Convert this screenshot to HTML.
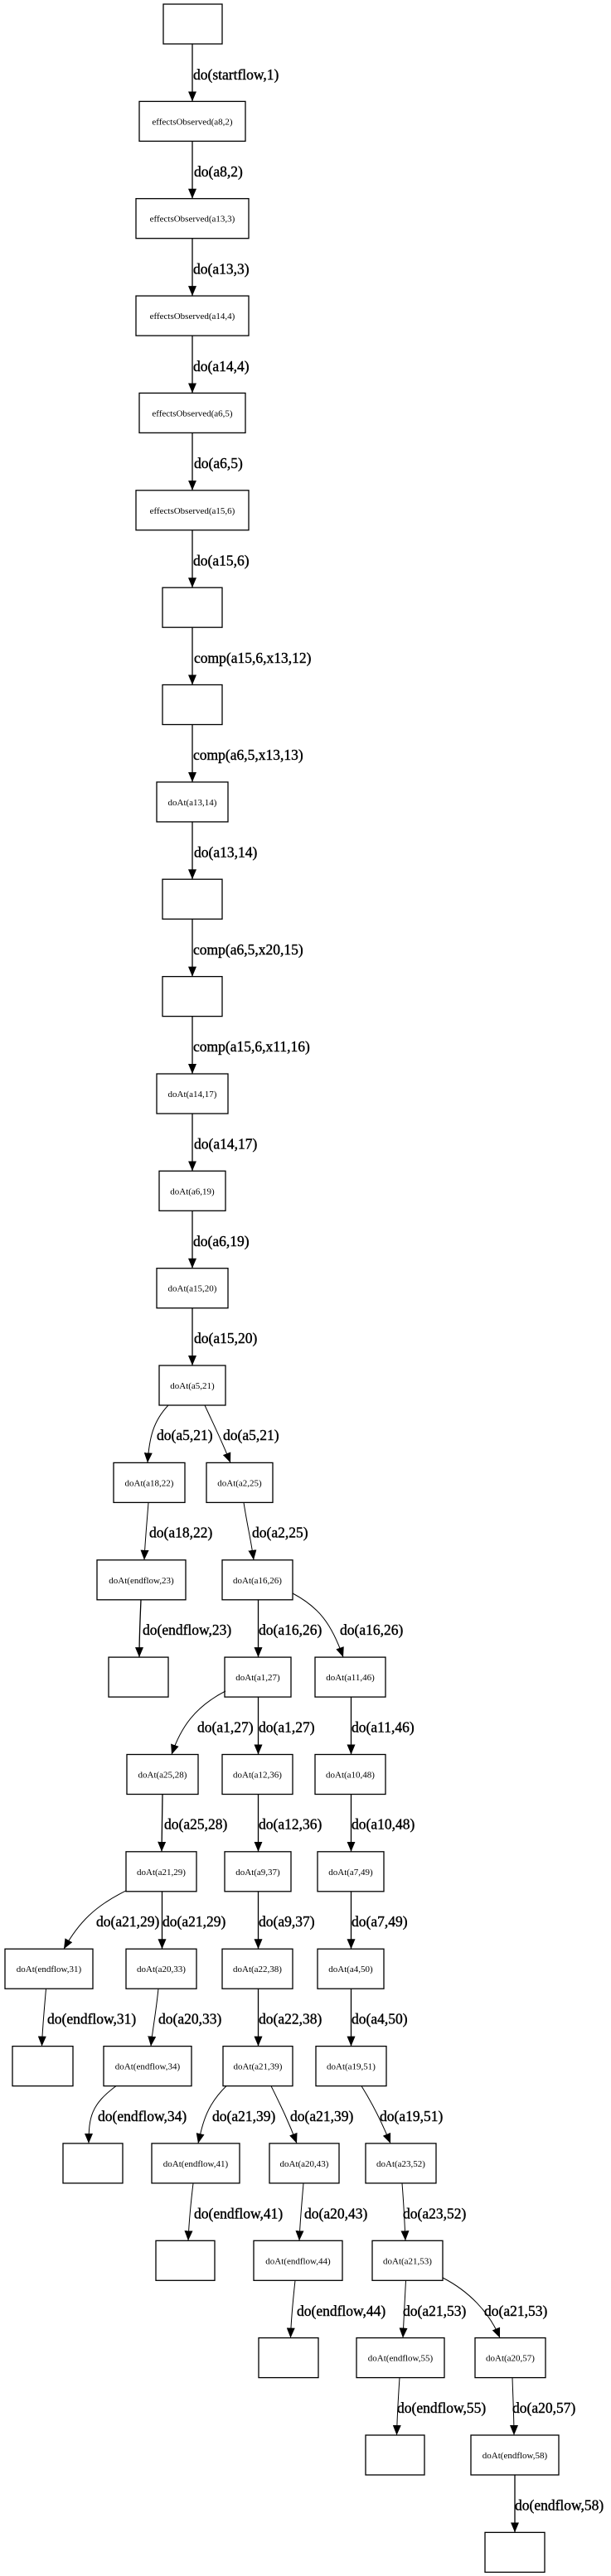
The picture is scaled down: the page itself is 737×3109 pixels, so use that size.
<!DOCTYPE html>
<html><head><meta charset="utf-8"><style>
html,body{margin:0;padding:0;background:#fff;}
svg{display:block;}
.n{fill:#fff;stroke:#000;stroke-width:1.3;}
.t{font-family:"Liberation Serif",serif;font-size:11px;text-anchor:middle;fill:#000;}
.l{font-family:"Liberation Serif",serif;font-size:17.5px;fill:#000;stroke:#000;stroke-width:0.4;}
.e{fill:none;stroke:#000;stroke-width:1.3;}
.c{fill:none;stroke:#000;stroke-width:1;}
</style></head><body>
<svg width="737" height="3109" viewBox="0 0 737 3109" xmlns="http://www.w3.org/2000/svg">
<defs>
<marker id="a" viewBox="0 0 12 10" refX="12" refY="5" markerWidth="12" markerHeight="10" markerUnits="userSpaceOnUse" orient="auto">
<path d="M0,0 L12,5 L0,10 z" fill="#000"/></marker>
</defs>

<rect class="n" x="197" y="5" width="71" height="48"/>
<rect class="n" x="168" y="122.4" width="128" height="48"/><text class="t" x="232" y="150.4">effectsObserved(a8,2)</text>
<rect class="n" x="164" y="239.7" width="136" height="48"/><text class="t" x="232" y="267.7">effectsObserved(a13,3)</text>
<rect class="n" x="164" y="357.1" width="136" height="48"/><text class="t" x="232" y="385.1">effectsObserved(a14,4)</text>
<rect class="n" x="168" y="474.4" width="128" height="48"/><text class="t" x="232" y="502.4">effectsObserved(a6,5)</text>
<rect class="n" x="164" y="591.8" width="136" height="48"/><text class="t" x="232" y="619.8">effectsObserved(a15,6)</text>
<rect class="n" x="196" y="709.2" width="72" height="48"/>
<rect class="n" x="196" y="826.5" width="72" height="48"/>
<rect class="n" x="189" y="943.9" width="86" height="48"/><text class="t" x="232" y="971.9">doAt(a13,14)</text>
<rect class="n" x="196" y="1061.2" width="72" height="48"/>
<rect class="n" x="196" y="1178.6" width="72" height="48"/>
<rect class="n" x="189" y="1296" width="86" height="48"/><text class="t" x="232" y="1324">doAt(a14,17)</text>
<rect class="n" x="192" y="1413.3" width="80" height="48"/><text class="t" x="232" y="1441.3">doAt(a6,19)</text>
<rect class="n" x="189" y="1530.7" width="86" height="48"/><text class="t" x="232" y="1558.7">doAt(a15,20)</text>
<rect class="n" x="192" y="1648" width="80" height="48"/><text class="t" x="232" y="1676">doAt(a5,21)</text>

<line class="e" x1="232" y1="53" x2="232" y2="122.4" marker-end="url(#a)"/><text class="l" x="233" y="96">do(startflow,1)</text>
<line class="e" x1="232" y1="170.4" x2="232" y2="239.7" marker-end="url(#a)"/><text class="l" x="234" y="213">do(a8,2)</text>
<line class="e" x1="232" y1="287.7" x2="232" y2="357.1" marker-end="url(#a)"/><text class="l" x="233" y="330.5">do(a13,3)</text>
<line class="e" x1="232" y1="405.1" x2="232" y2="474.4" marker-end="url(#a)"/><text class="l" x="233" y="448">do(a14,4)</text>
<line class="e" x1="232" y1="522.4" x2="232" y2="591.8" marker-end="url(#a)"/><text class="l" x="234" y="565">do(a6,5)</text>
<line class="e" x1="232" y1="639.8" x2="232" y2="709.2" marker-end="url(#a)"/><text class="l" x="233" y="682.5">do(a15,6)</text>
<line class="e" x1="232" y1="757.2" x2="232" y2="826.5" marker-end="url(#a)"/><text class="l" x="234" y="800">comp(a15,6,x13,12)</text>
<line class="e" x1="232" y1="874.5" x2="232" y2="943.9" marker-end="url(#a)"/><text class="l" x="233" y="917">comp(a6,5,x13,13)</text>
<line class="e" x1="232" y1="991.9" x2="232" y2="1061.2" marker-end="url(#a)"/><text class="l" x="234" y="1034.5">do(a13,14)</text>
<line class="e" x1="232" y1="1109.2" x2="232" y2="1178.6" marker-end="url(#a)"/><text class="l" x="233" y="1152">comp(a6,5,x20,15)</text>
<line class="e" x1="232" y1="1226.6" x2="232" y2="1296" marker-end="url(#a)"/><text class="l" x="233" y="1269">comp(a15,6,x11,16)</text>
<line class="e" x1="232" y1="1344" x2="232" y2="1413.3" marker-end="url(#a)"/><text class="l" x="234" y="1386.5">do(a14,17)</text>
<line class="e" x1="232" y1="1461.3" x2="232" y2="1530.7" marker-end="url(#a)"/><text class="l" x="233" y="1504">do(a6,19)</text>
<line class="e" x1="232" y1="1578.7" x2="232" y2="1648" marker-end="url(#a)"/><text class="l" x="234" y="1621">do(a15,20)</text>

<rect class="n" x="137" y="1765.4" width="86" height="48"/><text class="t" x="180" y="1793.4">doAt(a18,22)</text>
<rect class="n" x="249" y="1765.4" width="80" height="48"/><text class="t" x="289" y="1793.4">doAt(a2,25)</text>
<rect class="n" x="117" y="1882.8" width="107" height="48"/><text class="t" x="170.5" y="1910.8">doAt(endflow,23)</text>
<rect class="n" x="268" y="1882.8" width="85" height="48"/><text class="t" x="310.5" y="1910.8">doAt(a16,26)</text>
<rect class="n" x="131" y="2000.1" width="72" height="48"/>
<rect class="n" x="271" y="2000.1" width="80" height="48"/><text class="t" x="311" y="2028.1">doAt(a1,27)</text>
<rect class="n" x="380" y="2000.1" width="85" height="48"/><text class="t" x="422.5" y="2028.1">doAt(a11,46)</text>
<rect class="n" x="153" y="2117.5" width="86" height="48"/><text class="t" x="196" y="2145.5">doAt(a25,28)</text>
<rect class="n" x="268" y="2117.5" width="85" height="48"/><text class="t" x="310.5" y="2145.5">doAt(a12,36)</text>
<rect class="n" x="380" y="2117.5" width="85" height="48"/><text class="t" x="422.5" y="2145.5">doAt(a10,48)</text>
<rect class="n" x="152" y="2234.8" width="85" height="48"/><text class="t" x="194.5" y="2262.8">doAt(a21,29)</text>
<rect class="n" x="271" y="2234.8" width="80" height="48"/><text class="t" x="311" y="2262.8">doAt(a9,37)</text>
<rect class="n" x="383" y="2234.8" width="80" height="48"/><text class="t" x="423" y="2262.8">doAt(a7,49)</text>
<rect class="n" x="6" y="2352.2" width="106" height="48"/><text class="t" x="59" y="2380.2">doAt(endflow,31)</text>
<rect class="n" x="152" y="2352.2" width="85" height="48"/><text class="t" x="194.5" y="2380.2">doAt(a20,33)</text>
<rect class="n" x="268" y="2352.2" width="85" height="48"/><text class="t" x="310.5" y="2380.2">doAt(a22,38)</text>
<rect class="n" x="383" y="2352.2" width="80" height="48"/><text class="t" x="423" y="2380.2">doAt(a4,50)</text>
<rect class="n" x="15" y="2469.6" width="73" height="48"/>
<rect class="n" x="125" y="2469.6" width="106" height="48"/><text class="t" x="178" y="2497.6">doAt(endflow,34)</text>
<rect class="n" x="269" y="2469.6" width="84" height="48"/><text class="t" x="311" y="2497.6">doAt(a21,39)</text>
<rect class="n" x="381" y="2469.6" width="85" height="48"/><text class="t" x="423.5" y="2497.6">doAt(a19,51)</text>
<rect class="n" x="76" y="2586.9" width="72" height="48"/>
<rect class="n" x="183" y="2586.9" width="106" height="48"/><text class="t" x="236" y="2614.9">doAt(endflow,41)</text>
<rect class="n" x="325" y="2586.9" width="84" height="48"/><text class="t" x="367" y="2614.9">doAt(a20,43)</text>
<rect class="n" x="441" y="2586.9" width="85" height="48"/><text class="t" x="483.5" y="2614.9">doAt(a23,52)</text>
<rect class="n" x="188" y="2704.3" width="71" height="48"/>
<rect class="n" x="306" y="2704.3" width="107" height="48"/><text class="t" x="359.5" y="2732.3">doAt(endflow,44)</text>
<rect class="n" x="449" y="2704.3" width="85" height="48"/><text class="t" x="491.5" y="2732.3">doAt(a21,53)</text>
<rect class="n" x="312" y="2821.6" width="72" height="48"/>
<rect class="n" x="430" y="2821.6" width="106" height="48"/><text class="t" x="483" y="2849.6">doAt(endflow,55)</text>
<rect class="n" x="573" y="2821.6" width="85" height="48"/><text class="t" x="615.5" y="2849.6">doAt(a20,57)</text>
<rect class="n" x="441" y="2939" width="71" height="48"/>
<rect class="n" x="568" y="2939" width="106" height="48"/><text class="t" x="621" y="2967">doAt(endflow,58)</text>
<rect class="n" x="585" y="3056.4" width="72" height="48"/>

<path class="c" d="M203,1696 C185,1715 180,1735 178,1765.4" marker-end="url(#a)"/><text class="l" x="189" y="1738">do(a5,21)</text>
<path class="c" d="M247,1696 C258,1720 268,1740 278,1765.4" marker-end="url(#a)"/><text class="l" x="269" y="1738">do(a5,21)</text>
<path class="c" d="M179,1813.4 C177,1840 175,1860 174,1882.8" marker-end="url(#a)"/><text class="l" x="180" y="1855.5">do(a18,22)</text>
<path class="c" d="M294,1813.4 C298,1840 303,1860 306,1882.8" marker-end="url(#a)"/><text class="l" x="304" y="1855.5">do(a2,25)</text>
<path class="e" d="M170,1930.8 C169,1955 168,1975 168,2000.1" marker-end="url(#a)"/><text class="l" x="172" y="1973">do(endflow,23)</text>
<line class="e" x1="311.5" y1="1930.8" x2="311.5" y2="2000.1" marker-end="url(#a)"/><text class="l" x="312" y="1973">do(a16,26)</text>
<path class="c" d="M353,1923 C385,1940 400,1960 414,2000.1" marker-end="url(#a)"/><text class="l" x="410" y="1973">do(a16,26)</text>
<path class="c" d="M272,2041 C235,2060 218,2085 207,2117.5" marker-end="url(#a)"/><text class="l" x="238" y="2090.5">do(a1,27)</text>
<line class="e" x1="311.5" y1="2048.1" x2="311.5" y2="2117.5" marker-end="url(#a)"/><text class="l" x="312" y="2090.5">do(a1,27)</text>
<line class="e" x1="423.5" y1="2048.1" x2="423.5" y2="2117.5" marker-end="url(#a)"/><text class="l" x="424" y="2090.5">do(a11,46)</text>
<path class="e" d="M196,2165.5 L195,2234.8" marker-end="url(#a)"/><text class="l" x="198" y="2207.5">do(a25,28)</text>
<line class="e" x1="311.5" y1="2165.5" x2="311.5" y2="2234.8" marker-end="url(#a)"/><text class="l" x="312" y="2207.5">do(a12,36)</text>
<line class="e" x1="423.5" y1="2165.5" x2="423.5" y2="2234.8" marker-end="url(#a)"/><text class="l" x="424" y="2207.5">do(a10,48)</text>
<path class="c" d="M152.5,2281.7 C115,2300 95,2320 77,2352.2" marker-end="url(#a)"/><text class="l" x="116" y="2325">do(a21,29)</text>
<line class="e" x1="195.5" y1="2282.8" x2="195.5" y2="2352.2" marker-end="url(#a)"/><text class="l" x="196" y="2325">do(a21,29)</text>
<line class="e" x1="311.5" y1="2282.8" x2="311.5" y2="2352.2" marker-end="url(#a)"/><text class="l" x="312" y="2325">do(a9,37)</text>
<line class="e" x1="423.5" y1="2282.8" x2="423.5" y2="2352.2" marker-end="url(#a)"/><text class="l" x="424" y="2325">do(a7,49)</text>
<path class="c" d="M55.5,2400.2 C53,2430 51,2450 50.5,2469.6" marker-end="url(#a)"/><text class="l" x="57" y="2442.5">do(endflow,31)</text>
<path class="c" d="M191,2400.2 C188,2430 184,2450 182,2469.6" marker-end="url(#a)"/><text class="l" x="191" y="2442.5">do(a20,33)</text>
<line class="e" x1="311.5" y1="2400.2" x2="311.5" y2="2469.6" marker-end="url(#a)"/><text class="l" x="312" y="2442.5">do(a22,38)</text>
<line class="e" x1="423.5" y1="2400.2" x2="423.5" y2="2469.6" marker-end="url(#a)"/><text class="l" x="424" y="2442.5">do(a4,50)</text>
<path class="c" d="M140,2517.6 C110,2540 107,2555 107,2586.9" marker-end="url(#a)"/><text class="l" x="118" y="2560">do(endflow,34)</text>
<path class="c" d="M273,2517.6 C250,2540 245,2560 239,2586.9" marker-end="url(#a)"/><text class="l" x="256" y="2560">do(a21,39)</text>
<path class="c" d="M327,2517.6 C338,2540 348,2560 358,2586.9" marker-end="url(#a)"/><text class="l" x="350" y="2560">do(a21,39)</text>
<path class="c" d="M436,2517.6 C450,2540 460,2560 471,2586.9" marker-end="url(#a)"/><text class="l" x="458" y="2560">do(a19,51)</text>
<path class="c" d="M233,2634.9 C230,2660 228,2680 227,2704.3" marker-end="url(#a)"/><text class="l" x="234" y="2677.5">do(endflow,41)</text>
<path class="c" d="M366,2634.9 C364,2660 362,2680 361,2704.3" marker-end="url(#a)"/><text class="l" x="367" y="2677.5">do(a20,43)</text>
<path class="c" d="M485,2634.9 C487,2660 488,2680 489,2704.3" marker-end="url(#a)"/><text class="l" x="486" y="2677.5">do(a23,52)</text>
<path class="c" d="M356,2752.3 C353,2780 351,2800 350.5,2821.6" marker-end="url(#a)"/><text class="l" x="358" y="2795">do(endflow,44)</text>
<path class="c" d="M489.5,2752.3 C488,2780 487,2800 486,2821.6" marker-end="url(#a)"/><text class="l" x="486" y="2795">do(a21,53)</text>
<path class="c" d="M534,2749 C565,2765 590,2790 603,2821.6" marker-end="url(#a)"/><text class="l" x="584" y="2795">do(a21,53)</text>
<path class="c" d="M482,2869.6 C480,2900 479,2920 478.5,2939" marker-end="url(#a)"/><text class="l" x="479" y="2912">do(endflow,55)</text>
<path class="c" d="M618,2869.6 C619,2900 620,2920 620,2939" marker-end="url(#a)"/><text class="l" x="618" y="2912">do(a20,57)</text>
<line class="e" x1="621" y1="2987" x2="621" y2="3056.4" marker-end="url(#a)"/><text class="l" x="621" y="3029.5">do(endflow,58)</text>
</svg>
</body></html>
